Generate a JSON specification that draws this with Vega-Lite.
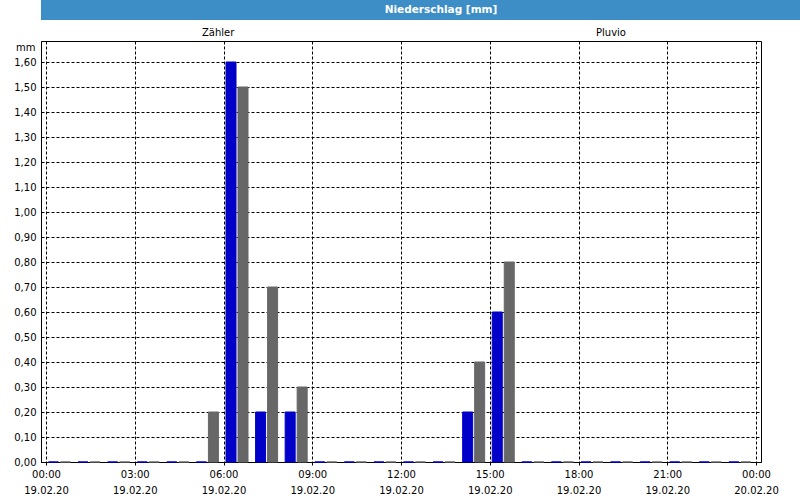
{
  "$schema": "https://vega.github.io/schema/vega-lite/v6.json",
  "background": "white",
  "padding": 0,
  "spacing": 7,
  "align": "none",
  "resolve": {"legend": {"color": "independent"}},
  "config": {"font": "DejaVu Sans", "view": {"stroke": null}},
  "datasets": {
    "rain": [
      {"hour": 0, "series": "Zähler", "value": 0},
      {"hour": 1, "series": "Zähler", "value": 0},
      {"hour": 2, "series": "Zähler", "value": 0},
      {"hour": 3, "series": "Zähler", "value": 0},
      {"hour": 4, "series": "Zähler", "value": 0},
      {"hour": 5, "series": "Zähler", "value": 0},
      {"hour": 6, "series": "Zähler", "value": 1.6},
      {"hour": 7, "series": "Zähler", "value": 0.2},
      {"hour": 8, "series": "Zähler", "value": 0.2},
      {"hour": 9, "series": "Zähler", "value": 0},
      {"hour": 10, "series": "Zähler", "value": 0},
      {"hour": 11, "series": "Zähler", "value": 0},
      {"hour": 12, "series": "Zähler", "value": 0},
      {"hour": 13, "series": "Zähler", "value": 0},
      {"hour": 14, "series": "Zähler", "value": 0.2},
      {"hour": 15, "series": "Zähler", "value": 0.6},
      {"hour": 16, "series": "Zähler", "value": 0},
      {"hour": 17, "series": "Zähler", "value": 0},
      {"hour": 18, "series": "Zähler", "value": 0},
      {"hour": 19, "series": "Zähler", "value": 0},
      {"hour": 20, "series": "Zähler", "value": 0},
      {"hour": 21, "series": "Zähler", "value": 0},
      {"hour": 22, "series": "Zähler", "value": 0},
      {"hour": 23, "series": "Zähler", "value": 0},
      {"hour": 0, "series": "Pluvio", "value": 0},
      {"hour": 1, "series": "Pluvio", "value": 0},
      {"hour": 2, "series": "Pluvio", "value": 0},
      {"hour": 3, "series": "Pluvio", "value": 0},
      {"hour": 4, "series": "Pluvio", "value": 0},
      {"hour": 5, "series": "Pluvio", "value": 0.2},
      {"hour": 6, "series": "Pluvio", "value": 1.5},
      {"hour": 7, "series": "Pluvio", "value": 0.7},
      {"hour": 8, "series": "Pluvio", "value": 0.3},
      {"hour": 9, "series": "Pluvio", "value": 0},
      {"hour": 10, "series": "Pluvio", "value": 0},
      {"hour": 11, "series": "Pluvio", "value": 0},
      {"hour": 12, "series": "Pluvio", "value": 0},
      {"hour": 13, "series": "Pluvio", "value": 0},
      {"hour": 14, "series": "Pluvio", "value": 0.4},
      {"hour": 15, "series": "Pluvio", "value": 0.8},
      {"hour": 16, "series": "Pluvio", "value": 0},
      {"hour": 17, "series": "Pluvio", "value": 0},
      {"hour": 18, "series": "Pluvio", "value": 0},
      {"hour": 19, "series": "Pluvio", "value": 0},
      {"hour": 20, "series": "Pluvio", "value": 0},
      {"hour": 21, "series": "Pluvio", "value": 0},
      {"hour": 22, "series": "Pluvio", "value": 0},
      {"hour": 23, "series": "Pluvio", "value": 0}
    ]
  },
  "vconcat": [
    {
      "width": 800,
      "height": 20,
      "view": {"fill": "#3d8ec6", "stroke": null},
      "data": {"values": [{"t": "Niederschlag [mm]"}]},
      "mark": {"type": "text", "color": "white", "fontWeight": "bold", "fontSize": 10.5, "baseline": "middle", "align": "center"},
      "encoding": {"text": {"field": "t"}}
    },
    {
      "width": 720,
      "height": 421,
      "view": {"stroke": "black", "strokeWidth": 1},
      "data": {"name": "rain"},
      "encoding": {
        "x": {
          "field": "hour",
          "type": "quantitative",
          "scale": {"domain": [0, 24], "nice": false, "zero": false},
          "axis": {
            "title": null,
            "values": [0, 3, 6, 9, 12, 15, 18, 21, 24],
            "labelExpr": "[(datum.value % 24 < 10 ? '0' : '') + (datum.value % 24) + ':00', datum.value < 24 ? '19.02.20' : '20.02.20']",
            "labelOverlap": false,
            "labelFlush": false,
            "labelLineHeight": 16,
            "labelPadding": 4,
            "labelFontSize": 10,
            "labelColor": "black",
            "labelBaseline": "top",
            "tickSize": 3,
            "tickColor": "black",
            "grid": true,
            "gridColor": "black",
            "gridDash": [3, 2],
            "domainColor": "black"
          }
        },
        "y": {
          "field": "value",
          "type": "quantitative",
          "scale": {"domain": [0, 1.684], "nice": false, "zero": true},
          "axis": {
            "values": [0, 0.1, 0.2, 0.3, 0.4, 0.5, 0.6, 0.7, 0.8, 0.9, 1.0, 1.1, 1.2, 1.3, 1.4, 1.5, 1.6],
            "labelExpr": "replace(format(datum.value, '.2f'), '.', ',')",
            "title": "mm",
            "titleAngle": 0,
            "titleAlign": "right",
            "titleBaseline": "middle",
            "titleX": -6,
            "titleY": 6,
            "titleFontWeight": "normal",
            "titleFontSize": 10,
            "titleColor": "black",
            "labelFontSize": 10,
            "labelColor": "black",
            "labelPadding": 5,
            "ticks": false,
            "tickSize": 0,
            "grid": true,
            "gridColor": "black",
            "gridDash": [3, 2],
            "domainColor": "black",
            "minExtent": 40
          }
        },
        "color": {
          "field": "series",
          "type": "nominal",
          "scale": {"domain": ["Zähler", "Pluvio"], "range": ["#0000c8", "#676767"]},
          "legend": {
            "title": null,
            "orient": "none",
            "direction": "horizontal",
            "legendX": 151,
            "legendY": -13,
            "symbolSize": 0,
            "symbolOpacity": 0,
            "symbolStrokeWidth": 0,
            "labelOffset": 0,
            "columnPadding": 351,
            "labelFontSize": 10,
            "encode": {"labels": {"fill": {"condition": {"test": "datum.value === 'Zähler'", "value": "#1414dc"}, "value": "#56568e"}}}
          }
        }
      },
      "layer": [
        {
          "transform": [{"filter": "datum.series === 'Zähler'"}],
          "mark": {"type": "bar", "orient": "vertical", "width": 10, "xOffset": 7.5, "stroke": "#0000c8", "strokeWidth": 1}
        },
        {
          "transform": [{"filter": "datum.series === 'Pluvio'"}],
          "mark": {"type": "bar", "orient": "vertical", "width": 10, "xOffset": 19.5, "stroke": "#676767", "strokeWidth": 1}
        }
      ]
    }
  ]
}
